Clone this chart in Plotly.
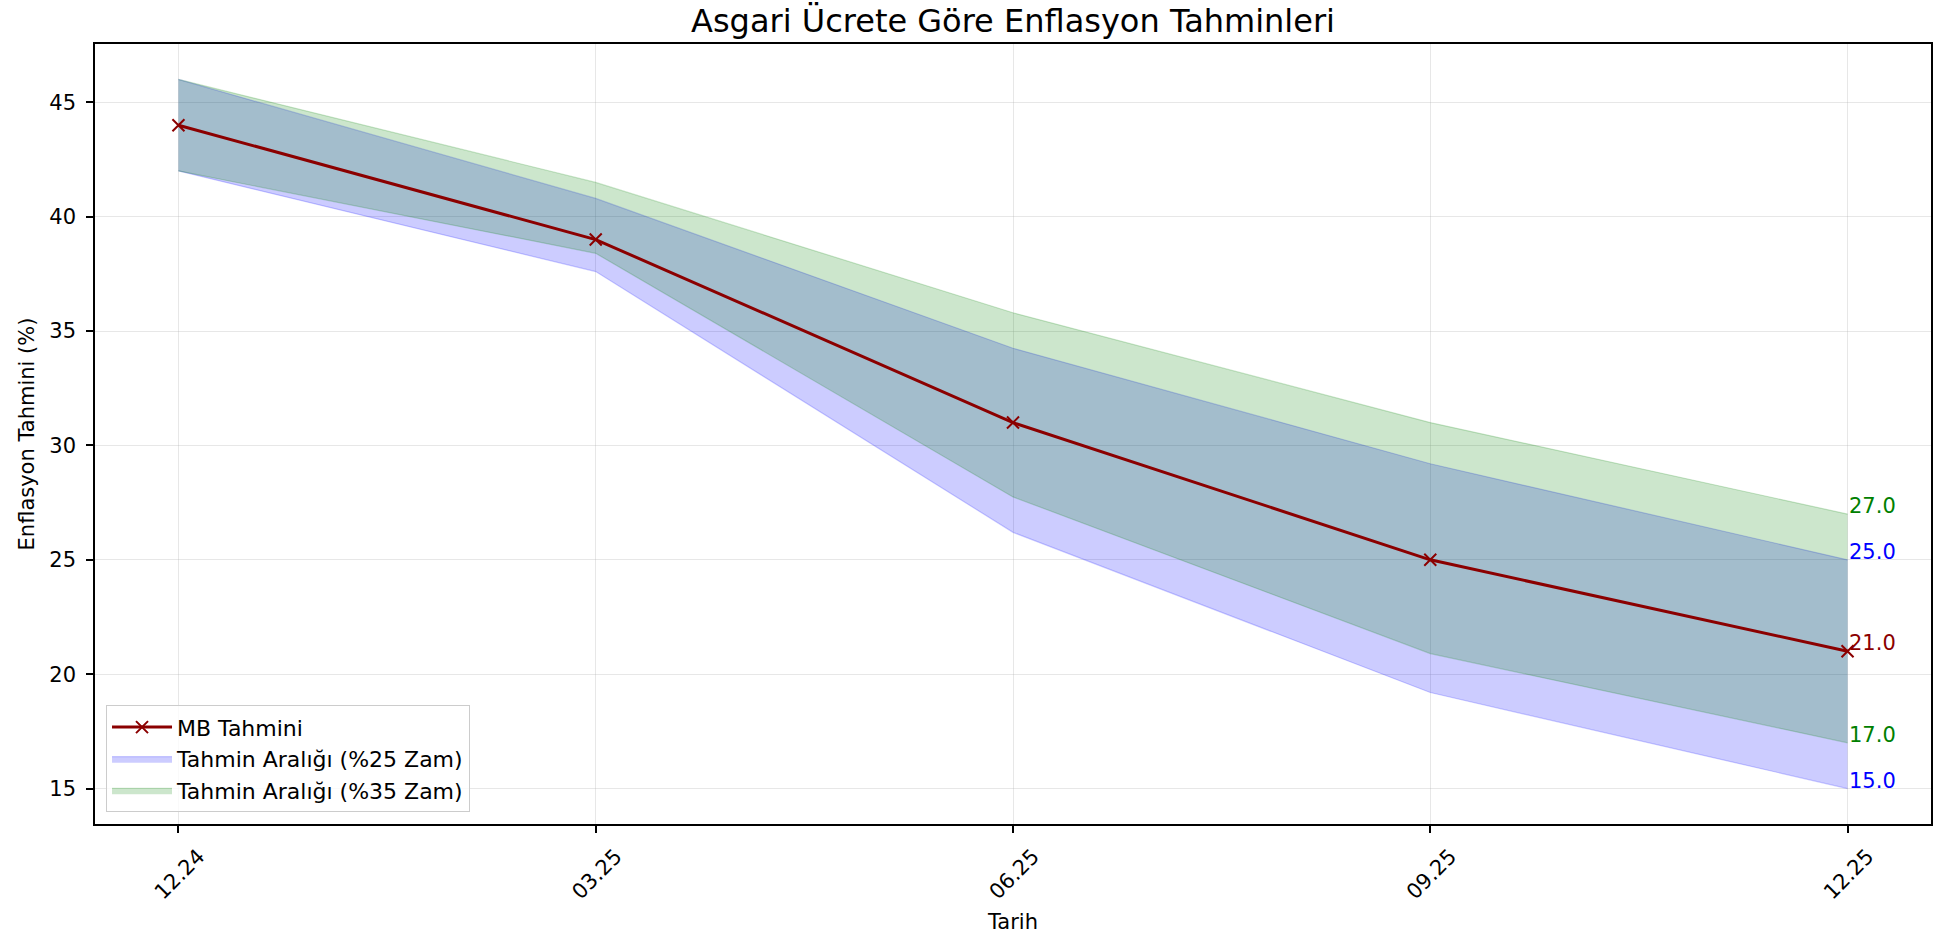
import plotly.graph_objects as go

dates = ["12.24", "03.25", "06.25", "09.25", "12.25"]
mb_forecast = [44, 39, 31, 25, 21]
band25_low = [42, 37.6, 26.2, 19.2, 15]
band25_high = [46, 40.8, 34.25, 29.2, 25]
band35_low = [42, 38.4, 27.75, 20.9, 17]
band35_high = [46, 41.5, 35.8, 31.0, 27]

xs = list(range(len(dates)))
FONT = "DejaVu Sans"
FS = 21

blue_fill = "rgba(0,0,255,0.2)"
green_fill = "rgba(0,128,0,0.2)"

fig = go.Figure()
fig.add_trace(go.Scatter(x=xs, y=band25_low, mode="lines",
                         line=dict(color=blue_fill, width=1.2), legendgroup="b25",
                         showlegend=False, hoverinfo="skip"))
fig.add_trace(go.Scatter(x=xs, y=band25_high, mode="lines", fill="tonexty",
                         fillcolor=blue_fill, line=dict(color=blue_fill, width=1.2),
                         legendgroup="b25",
                         name="Tahmin Aralığı (%25 Zam)", legendrank=2))
fig.add_trace(go.Scatter(x=xs, y=band35_low, mode="lines",
                         line=dict(color=green_fill, width=1.2), legendgroup="b35",
                         showlegend=False, hoverinfo="skip"))
fig.add_trace(go.Scatter(x=xs, y=band35_high, mode="lines", fill="tonexty",
                         fillcolor=green_fill, line=dict(color=green_fill, width=1.2),
                         legendgroup="b35",
                         name="Tahmin Aralığı (%35 Zam)", legendrank=3))
fig.add_trace(go.Scatter(x=xs, y=mb_forecast, mode="lines+markers",
                         line=dict(color="#8b0000", width=3),
                         marker=dict(symbol="x-thin", size=12,
                                     line=dict(color="#8b0000", width=2)),
                         legendgroup="mb",
                         name="MB Tahmini", legendrank=1))

last = len(dates) - 1
labels = [
    (band35_high[last], "green"),
    (band25_high[last], "blue"),
    (mb_forecast[last], "#8b0000"),
    (band35_low[last], "green"),
    (band25_low[last], "blue"),
]
for val, col in labels:
    fig.add_annotation(x=xs[last], y=val, text=f"{val:.1f}", showarrow=False,
                       xanchor="left", yanchor="bottom", xshift=-1, yshift=-6,
                       font=dict(family=FONT, size=FS, color=col))

fig.update_layout(
    width=1934, height=938,
    margin=dict(l=95, r=3, t=44, b=114),
    paper_bgcolor="white", plot_bgcolor="white",
    font=dict(family=FONT, size=FS, color="black"),
    title=dict(text="Asgari Ücrete Göre Enflasyon Tahminleri",
               x=(95 + 1931) / 2 / 1934, xanchor="center",
               y=1 - 21 / 938, yanchor="middle",
               font=dict(family=FONT, size=32, color="black")),
    legend=dict(x=0.006, y=0.015, xanchor="left", yanchor="bottom",
                traceorder="normal", tracegroupgap=6, itemwidth=60,
                bgcolor="rgba(255,255,255,0.8)", bordercolor="#cccccc",
                borderwidth=1, font=dict(family=FONT, size=22)),
    showlegend=True,
)
fig.update_xaxes(range=[-0.2, 4.2], tickvals=xs, ticktext=dates, tickangle=-45,
                 ticklabelshift=20, ticklabelstandoff=3,
                 showgrid=True, gridcolor="rgba(176,176,176,0.3)", gridwidth=1.2,
                 showline=True, linecolor="black", linewidth=1.5, mirror=True,
                 ticks="outside", ticklen=7, tickwidth=1.5, tickcolor="black",
                 zeroline=False, automargin=False,
                 title=dict(text="Tarih", font=dict(family=FONT, size=FS), standoff=11),
                 tickfont=dict(family=FONT, size=FS))
fig.update_yaxes(range=[13.45, 47.55], tickvals=[15, 20, 25, 30, 35, 40, 45],
                 ticklabelstandoff=6,
                 showgrid=True, gridcolor="rgba(176,176,176,0.3)", gridwidth=1.2,
                 showline=True, linecolor="black", linewidth=1.5, mirror=True,
                 ticks="outside", ticklen=7, tickwidth=1.5, tickcolor="black",
                 zeroline=False, automargin=False,
                 title=dict(text="Enflasyon Tahmini (%)", font=dict(family=FONT, size=FS), standoff=9),
                 tickfont=dict(family=FONT, size=FS))

fig.write_html("out.html", config={"displayModeBar": False},
               post_script="document.body.style.margin='0';document.body.style.overflow='hidden';")
